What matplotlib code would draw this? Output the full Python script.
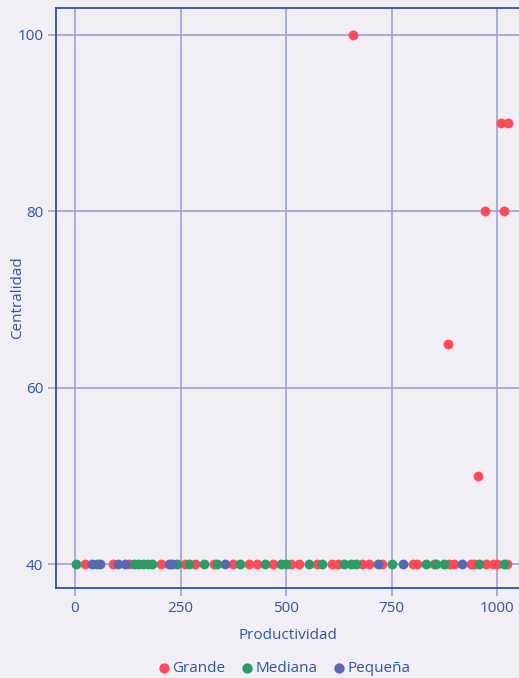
import matplotlib.pyplot as plt

plt.rcParams['font.family'] = ['Open Sans', 'DejaVu Sans']

# values
grande_x = [24, 89, 127, 203, 261, 285, 329, 375, 412, 431, 470, 511, 530, 574,
            610, 622, 681, 697, 728, 800, 811, 851, 887, 899, 938, 946, 974, 990,
            1000, 1023, 658, 1009, 1026, 971, 1017, 884, 955]
grande_y = [40] * 30 + [100, 90, 90, 80, 80, 65, 50]

mediana_x = [2, 51, 139, 150, 162, 174, 182, 241, 269, 305, 336, 392, 451, 487,
             499, 554, 586, 637, 653, 665, 752, 831, 855, 875, 958, 1016]
mediana_y = [40] * len(mediana_x)

pequena_x = [40, 59, 103, 119, 222, 230, 356, 717, 776, 918]
pequena_y = [40] * len(pequena_x)

bg = '#f1eef6'
dark = '#2a52a8'
grid = '#9ca2d6'
text = '#2f56a0'

fig = plt.figure(figsize=(5.19, 6.78), dpi=100, facecolor=bg)
ax = fig.add_axes([56 / 519, 90 / 678, 1 - 56 / 519, 580 / 678])
ax.set_facecolor(bg)

ax.scatter(grande_x, grande_y, s=50, color='#ff4b57', label='Grande', zorder=3, linewidths=0)
ax.scatter(mediana_x, mediana_y, s=50, color='#2e9a66', label='Mediana', zorder=3, linewidths=0)
ax.scatter(pequena_x, pequena_y, s=50, color='#5a68b2', label='Pequeña', zorder=3, linewidths=0)

ax.set_xlim(-45, 1052)
ax.set_ylim(37.28, 103.06)
ax.set_xticks([0, 250, 500, 750, 1000])
ax.set_yticks([40, 60, 80, 100])
ax.grid(True, color=grid, linewidth=1.2)
ax.set_axisbelow(True)

for side in ['left', 'bottom', 'top']:
    ax.spines[side].set_color(dark)
    ax.spines[side].set_linewidth(1.3)
ax.spines['right'].set_visible(False)

ax.tick_params(colors=grid, labelcolor=text, labelsize=11, length=6, width=1.2, pad=3)
ax.set_xlabel('Productividad', color=text, fontsize=11, labelpad=9)
ax.set_ylabel('Centralidad', color=text, fontsize=11)
ax.yaxis.set_label_coords(-0.066, 0.5)

fig.legend(loc='lower center', bbox_to_anchor=(0.546, -0.017), ncol=3, frameon=False,
           handletextpad=0.05, columnspacing=0.9, markerscale=1.05,
           labelcolor=text, fontsize=11, handlelength=1.0)

plt.savefig('out.png', dpi=100, facecolor=bg)
